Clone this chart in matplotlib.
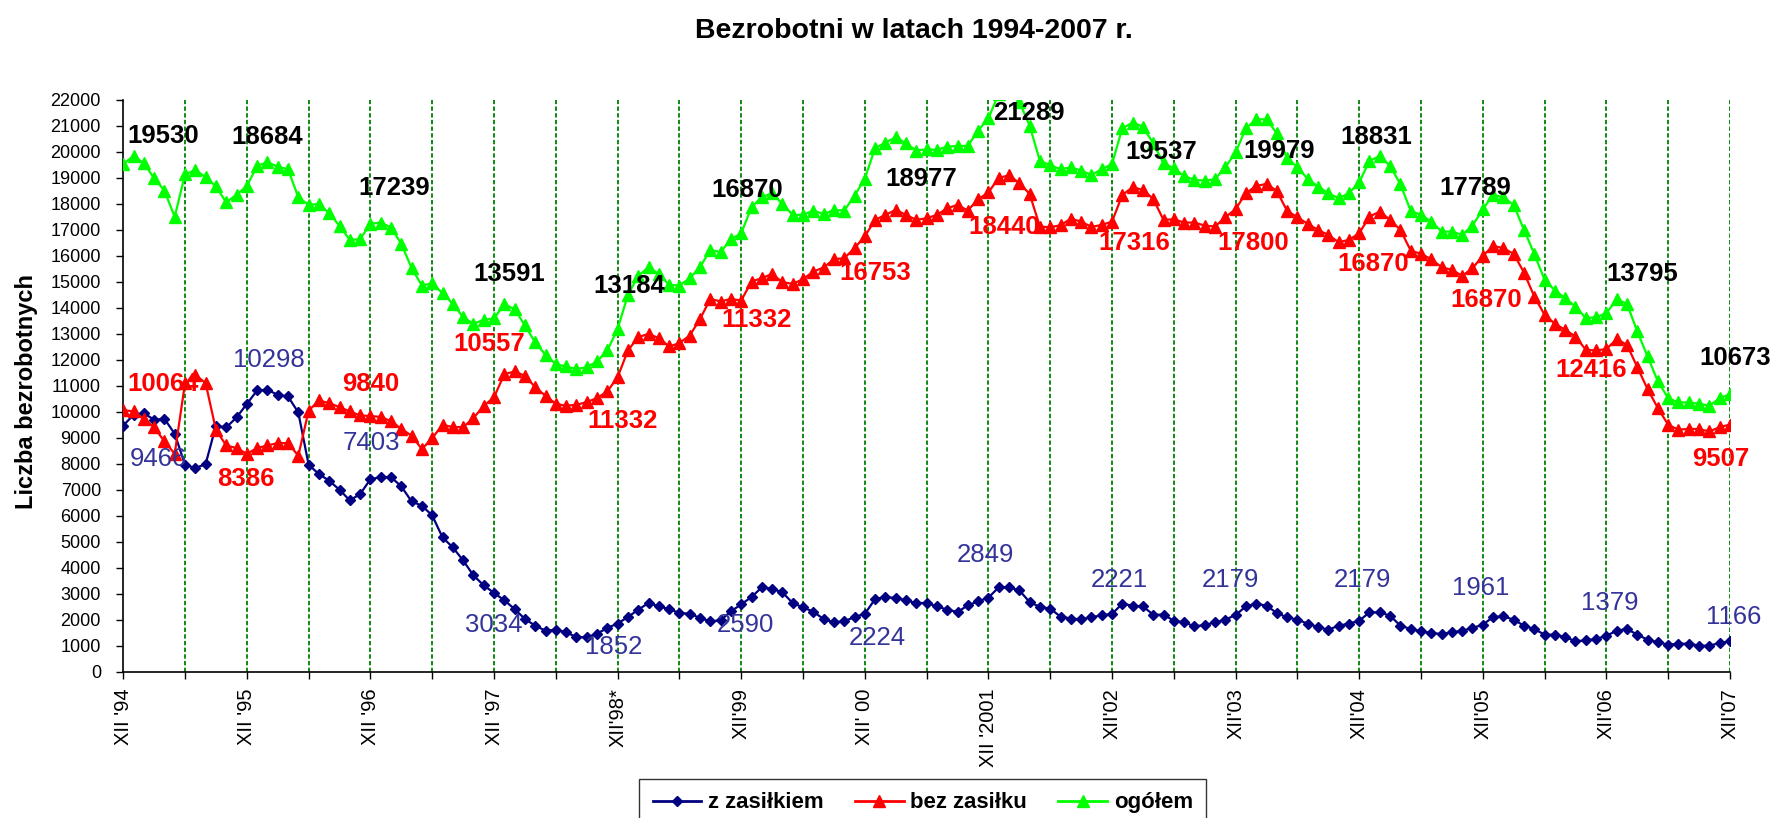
import numpy as np
import matplotlib
matplotlib.use("Agg")
import matplotlib.pyplot as plt
from matplotlib.lines import Line2D

plt.rcParams['font.family'] = ['Liberation Sans', 'DejaVu Sans']

# miesięczne dane XII 1994 - XII 2007 (157 punktów)
z_zasilkiem = [
    9466, 9885, 9949, 9692, 9731, 9154, 7962, 7834, 7987, 9462, 9398, 9782,
    10298, 10821, 10846, 10654, 10590, 9974, 7962, 7603, 7346, 7000, 6590, 6834,
    7403, 7487, 7487, 7128, 6551, 6385, 6013, 5167, 4782, 4282, 3705, 3321,
    3034, 2744, 2410, 2026, 1769, 1577, 1615, 1513, 1333, 1321, 1462, 1680,
    1852, 2103, 2385, 2641, 2513, 2410, 2256, 2231, 2065, 1937, 1975, 2321,
    2590, 2872, 3244, 3192, 3051, 2641, 2474, 2308, 2026, 1897, 1937, 2103,
    2224, 2795, 2872, 2834, 2744, 2641, 2641, 2513, 2385, 2295, 2551, 2705,
    2849, 3244, 3244, 3128, 2680, 2487, 2430, 2115, 2045, 2013, 2095, 2167,
    2221, 2615, 2538, 2513, 2192, 2192, 1962, 1897, 1744, 1795, 1897, 2000,
    2179, 2513, 2615, 2538, 2256, 2090, 2000, 1846, 1718, 1615, 1769, 1846,
    1961, 2282, 2282, 2154, 1769, 1641, 1551, 1487, 1449, 1513, 1577, 1680,
    1808, 2103, 2128, 2000, 1769, 1641, 1423, 1423, 1333, 1167, 1205, 1256,
    1379, 1577, 1641, 1423, 1231, 1128, 1038, 1077, 1077, 1000, 1000, 1103,
    1166,
]
bez_zasilku = [
    10064, 10013, 9718, 9410, 8859, 8385, 11103, 11423, 11103, 9308, 8705, 8603,
    8386, 8603, 8705, 8795, 8795, 8308, 10039, 10436, 10333, 10180, 10013, 9859,
    9840, 9800, 9640, 9346, 9077, 8564, 8987, 9500, 9410, 9410, 9756, 10231,
    10557, 11449, 11551, 11385, 10949, 10615, 10308, 10231, 10269, 10372, 10526, 10782,
    11332, 12359, 12872, 13000, 12833, 12513, 12641, 12936, 13564, 14346, 14244, 14346,
    14280, 15013, 15141, 15308, 14987, 14923, 15103, 15397, 15551, 15872, 15910, 16295,
    16753, 17385, 17577, 17769, 17577, 17385, 17449, 17577, 17833, 17962, 17744, 18180,
    18440, 19000, 19100, 18800, 18385, 17128, 17100, 17180, 17430, 17320, 17115, 17192,
    17316, 18346, 18641, 18538, 18192, 17385, 17410, 17282, 17282, 17167, 17128, 17487,
    17800, 18410, 18692, 18769, 18500, 17731, 17487, 17231, 17000, 16808, 16526, 16615,
    16870, 17513, 17705, 17385, 17000, 16205, 16077, 15872, 15564, 15462, 15231, 15526,
    16000, 16385, 16295, 16077, 15359, 14436, 13731, 13385, 13154, 12897, 12385, 12359,
    12416, 12795, 12577, 11718, 10872, 10141, 9500, 9308, 9346, 9333, 9244, 9410,
    9507,
]
ogolem = [
    19530, 19846, 19564, 18990, 18510, 17500, 19140, 19300, 19030, 18670, 18060, 18350,
    18684, 19462, 19603, 19436, 19333, 18256, 17962, 18000, 17641, 17154, 16616, 16641,
    17239, 17282, 17090, 16462, 15526, 14859, 14949, 14564, 14154, 13641, 13385, 13539,
    13591, 14141, 13949, 13321, 12667, 12193, 11834, 11744, 11641, 11718, 11936, 12359,
    13184, 14500, 15231, 15564, 15308, 14885, 14859, 15141, 15564, 16231, 16141, 16641,
    16870, 17872, 18256, 18410, 18000, 17577, 17577, 17744, 17603, 17769, 17744, 18308,
    18977, 20141, 20359, 20564, 20333, 20051, 20103, 20077, 20205, 20231, 20231, 20821,
    21289, 22240, 22340, 21930, 21011, 19660, 19490, 19333, 19410, 19282, 19115, 19333,
    19537, 20910, 21128, 20974, 20333, 19564, 19372, 19077, 18923, 18897, 18949, 19410,
    19979, 20910, 21256, 21256, 20718, 19756, 19410, 18962, 18667, 18410, 18218, 18410,
    18831, 19654, 19846, 19462, 18757, 17731, 17577, 17321, 16936, 16936, 16808, 17167,
    17789, 18346, 18256, 17962, 17000, 16077, 15077, 14667, 14372, 14051, 13603, 13641,
    13795, 14333, 14154, 13090, 12128, 11167, 10526, 10359, 10359, 10308, 10231, 10526,
    10673,
]

etykiety_x = ["XII '94", "XII '95", "XII '96", "XII '97", "XII'98*", "XII'99", "XII' 00",
              "XII '2001", "XII'02", "XII'03", "XII'04", "XII'05", "XII'06", "XII'07"]

# opisy wartości (tekst) i ich położenie (indeks miesiąca, wysokość)
opis_ogolem = ["19530", "18684", "17239", "13591", "13184", "16870", "18977",
               "21289", "19537", "19979", "18831", "17789", "13795", "10673"]
poz_ogolem = [(3.85, 20615), (14.0, 20557), (26.3, 18614), (37.5, 15305), (49.15, 14843),
              (60.6, 18537), (77.5, 18960), (87.9, 21500), (100.75, 19999), (112.2, 20038),
              (121.7, 20577), (131.3, 18614), (147.5, 15305), (156.5, 12072)]
opis_bez = ["10064", "8386", "9840", "10557", "11332", "11332", "16753",
            "18440", "17316", "17800", "16870", "16870", "12416", "9507"]
poz_bez = [(3.85, 11071), (11.9, 7416), (24.03, 11071), (35.57, 12611), (48.47, 9648),
           (61.46, 13534), (73.0, 15343), (85.52, 17113), (98.13, 16497), (109.67, 16497),
           (121.4, 15689), (132.3, 14304), (142.55, 11610), (155.06, 8185)]
opis_z = ["9466", "10298", "7403", "3034", "1852", "2590", "2224",
          "2849", "2221", "2179", "2179", "1961", "1379", "1166"]
poz_z = [(3.46, 8185), (14.13, 11995), (24.12, 8801), (35.96, 1797), (47.6, 951),
         (60.4, 1797), (73.2, 1297), (83.68, 4491), (96.67, 3529), (107.54, 3529),
         (120.34, 3529), (131.78, 3221), (144.3, 2644), (156.33, 2105)]

x = np.arange(len(ogolem))

fig = plt.figure(figsize=(17.78, 8.18), dpi=100)
ax = fig.add_axes([0.0693, 0.1789, 0.9037, 0.6989])

# pionowe linie co pół roku
for xv in range(6, len(x), 6):
    ax.axvline(xv, color='#008000', lw=1.3, dashes=(2.4, 1.3), zorder=1)

ax.plot(x, z_zasilkiem, color='#000080', lw=1.6, marker='D', markersize=5.5, zorder=3)
ax.plot(x, bez_zasilku, color='#FF0000', lw=1.6, marker='^', markersize=8, zorder=4)
ax.plot(x, ogolem, color='#00FF00', lw=1.6, marker='^', markersize=8, zorder=5)

for s, (px, py) in zip(opis_ogolem, poz_ogolem):
    ax.text(px, py, s, color='black', fontsize=18.5, fontweight='bold', ha='center', va='center', zorder=6)
for s, (px, py) in zip(opis_bez, poz_bez):
    ax.text(px, py, s, color='#FF0000', fontsize=18.5, fontweight='bold', ha='center', va='center', zorder=6)
for s, (px, py) in zip(opis_z, poz_z):
    ax.text(px, py, s, color='#333399', fontsize=18.5, ha='center', va='center', zorder=6)

ax.set_xlim(0, len(x) - 1)
ax.set_ylim(0, 22000)
ax.set_yticks(np.arange(0, 22001, 1000))
ax.set_xticks(np.arange(0, len(x), 6))
ax.set_xticklabels([etykiety_x[i // 2] if i % 2 == 0 else '' for i in range(len(range(0, len(x), 6)))],
                   rotation=90, va='top', ha='center')
ax.tick_params(axis='y', direction='out', length=5, width=1, labelsize=13, pad=11)
ax.tick_params(axis='x', direction='out', length=5, width=1, labelsize=14.5, pad=7)
ax.spines['top'].set_visible(False)
ax.spines['right'].set_visible(False)
ax.spines['left'].set_linewidth(1.2)
ax.spines['bottom'].set_linewidth(1.2)

fig.text(0.514, 0.962, 'Bezrobotni w latach 1994-2007 r.', fontsize=20.5, fontweight='bold',
         ha='center', va='center')
fig.text(0.015, 0.522, 'Liczba bezrobotnych', fontsize=17, fontweight='bold', rotation=90,
         ha='center', va='center')

uchwyty = [
    Line2D([], [], color='#000080', lw=2, marker='D', markersize=5.5),
    Line2D([], [], color='#FF0000', lw=2, marker='^', markersize=8),
    Line2D([], [], color='#00FF00', lw=2, marker='^', markersize=8),
]
leg = fig.legend(uchwyty, ['z zasiłkiem', 'bez zasiłku', 'ogółem'], loc='upper center',
                 bbox_to_anchor=(0.519, 0.0477), ncol=3, frameon=True, fancybox=False,
                 edgecolor='black', prop={'size': 16, 'weight': 'bold'}, handlelength=2.2,
                 columnspacing=1.4, handletextpad=0.3, borderpad=0.6, borderaxespad=0)
leg.get_frame().set_linewidth(1)

fig.savefig('out.png', dpi=100)
